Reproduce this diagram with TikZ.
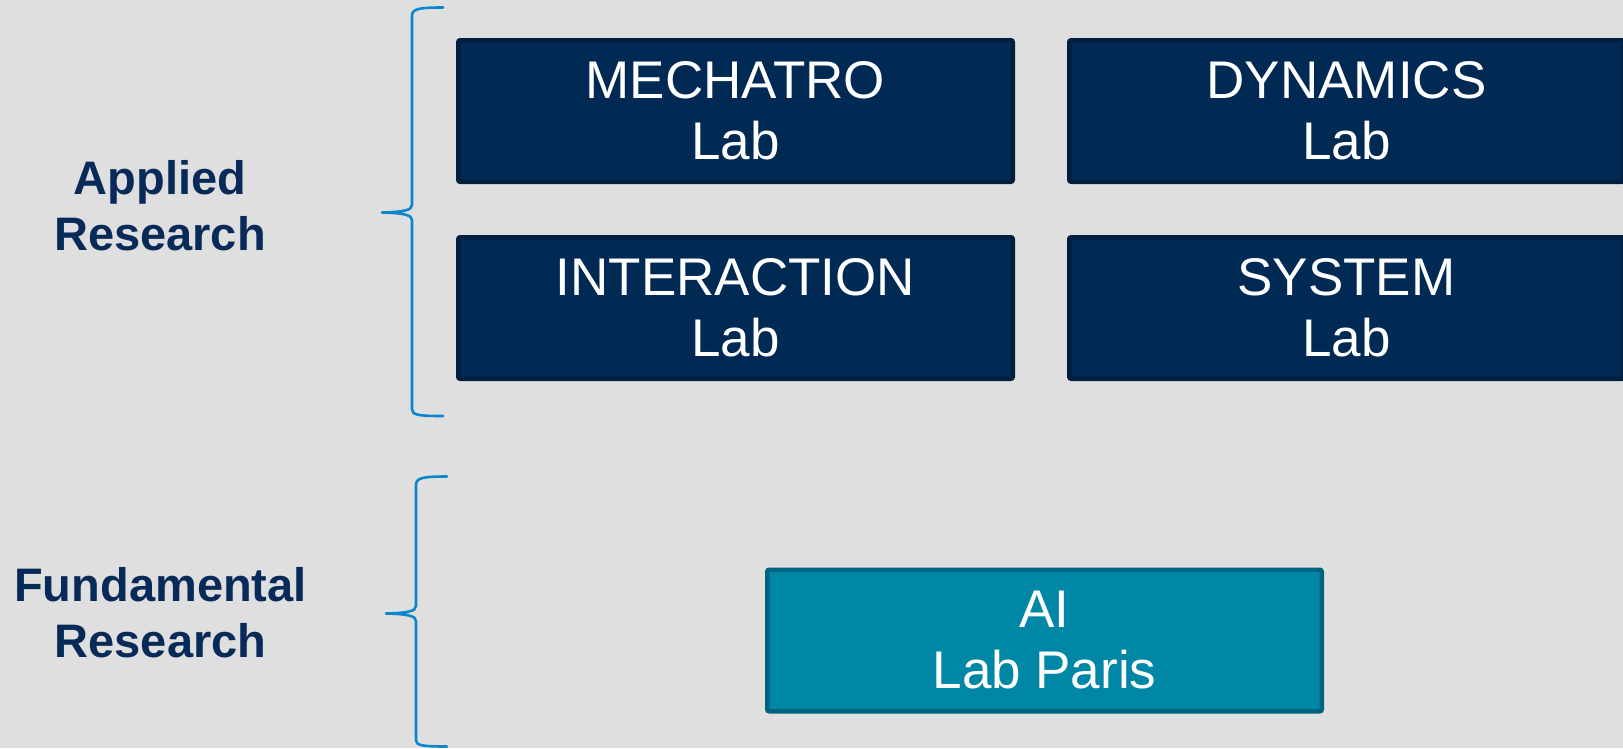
\documentclass[tikz,border=0pt]{standalone}
\usepackage{fontspec}
\setmainfont{Liberation Sans}
\definecolor{bgc}{RGB}{223,223,223}
\definecolor{navyfill}{RGB}{0,41,84}
\definecolor{navyline}{RGB}{0,30,62}
\definecolor{tealfill}{RGB}{0,135,166}
\definecolor{tealline}{RGB}{0,99,128}
\definecolor{bracec}{RGB}{10,134,202}
\definecolor{labelc}{RGB}{8,42,88}
\tikzset{
  labbox/.style={rectangle, draw=navyline, fill=navyfill, line width=4.5pt, rounded corners=2pt,
    inner sep=0pt, minimum width=554.5pt, minimum height=141.5pt, text=white, align=center,
    font=\fontsize{53}{61}\selectfont},
  aibox/.style={labbox, draw=tealline, fill=tealfill},
  grouplabel/.style={text=labelc, align=center, inner sep=0pt, font=\fontsize{47}{56}\selectfont\bfseries},
  bracepath/.style={draw=bracec, line width=2.6pt, line cap=round, line join=round}
}
\begin{document}
\begin{tikzpicture}[x=1pt, y=-1pt]
\fill[bgc] (0,0) rectangle (1623,748);
\useasboundingbox (0,0) rectangle (1623,748);

\node[labbox] (mech) at (735.5,111) {MECHATRO\\Lab};
\node[labbox] (dyn) at (1346.5,111) {DYNAMICS\\Lab};
\node[labbox] (inter) at (735.5,308) {INTERACTION\\Lab};
\node[labbox] (sys) at (1346.5,308) {SYSTEM\\Lab};
\node[aibox] (ai) at (1044.5,640.5) {AI\\Lab Paris};

\node[grouplabel] (applied) at (160,205.4) {Applied\\Research};
\node[grouplabel] (fund) at (160.5,612.8) {Fundamental\\Research};

% brace for applied research
\draw[bracepath] (443,7.5) .. controls (418,7.5) and (412,9) .. (412,16)
  -- (412,205) .. controls (412,210) and (404,212) .. (382,212.5)
  .. controls (404,213) and (412,215) .. (412,220)
  -- (412,409) .. controls (412,415) and (418,416) .. (443,416);
% brace for fundamental research
\draw[bracepath] (447,476.5) .. controls (422,476.5) and (416,478) .. (416,485)
  -- (416,606) .. controls (416,611) and (408,613) .. (386,613.5)
  .. controls (408,614) and (416,616) .. (416,621)
  -- (416,740) .. controls (416,745.5) and (422,746.5) .. (447,746.5);
\end{tikzpicture}
\end{document}
